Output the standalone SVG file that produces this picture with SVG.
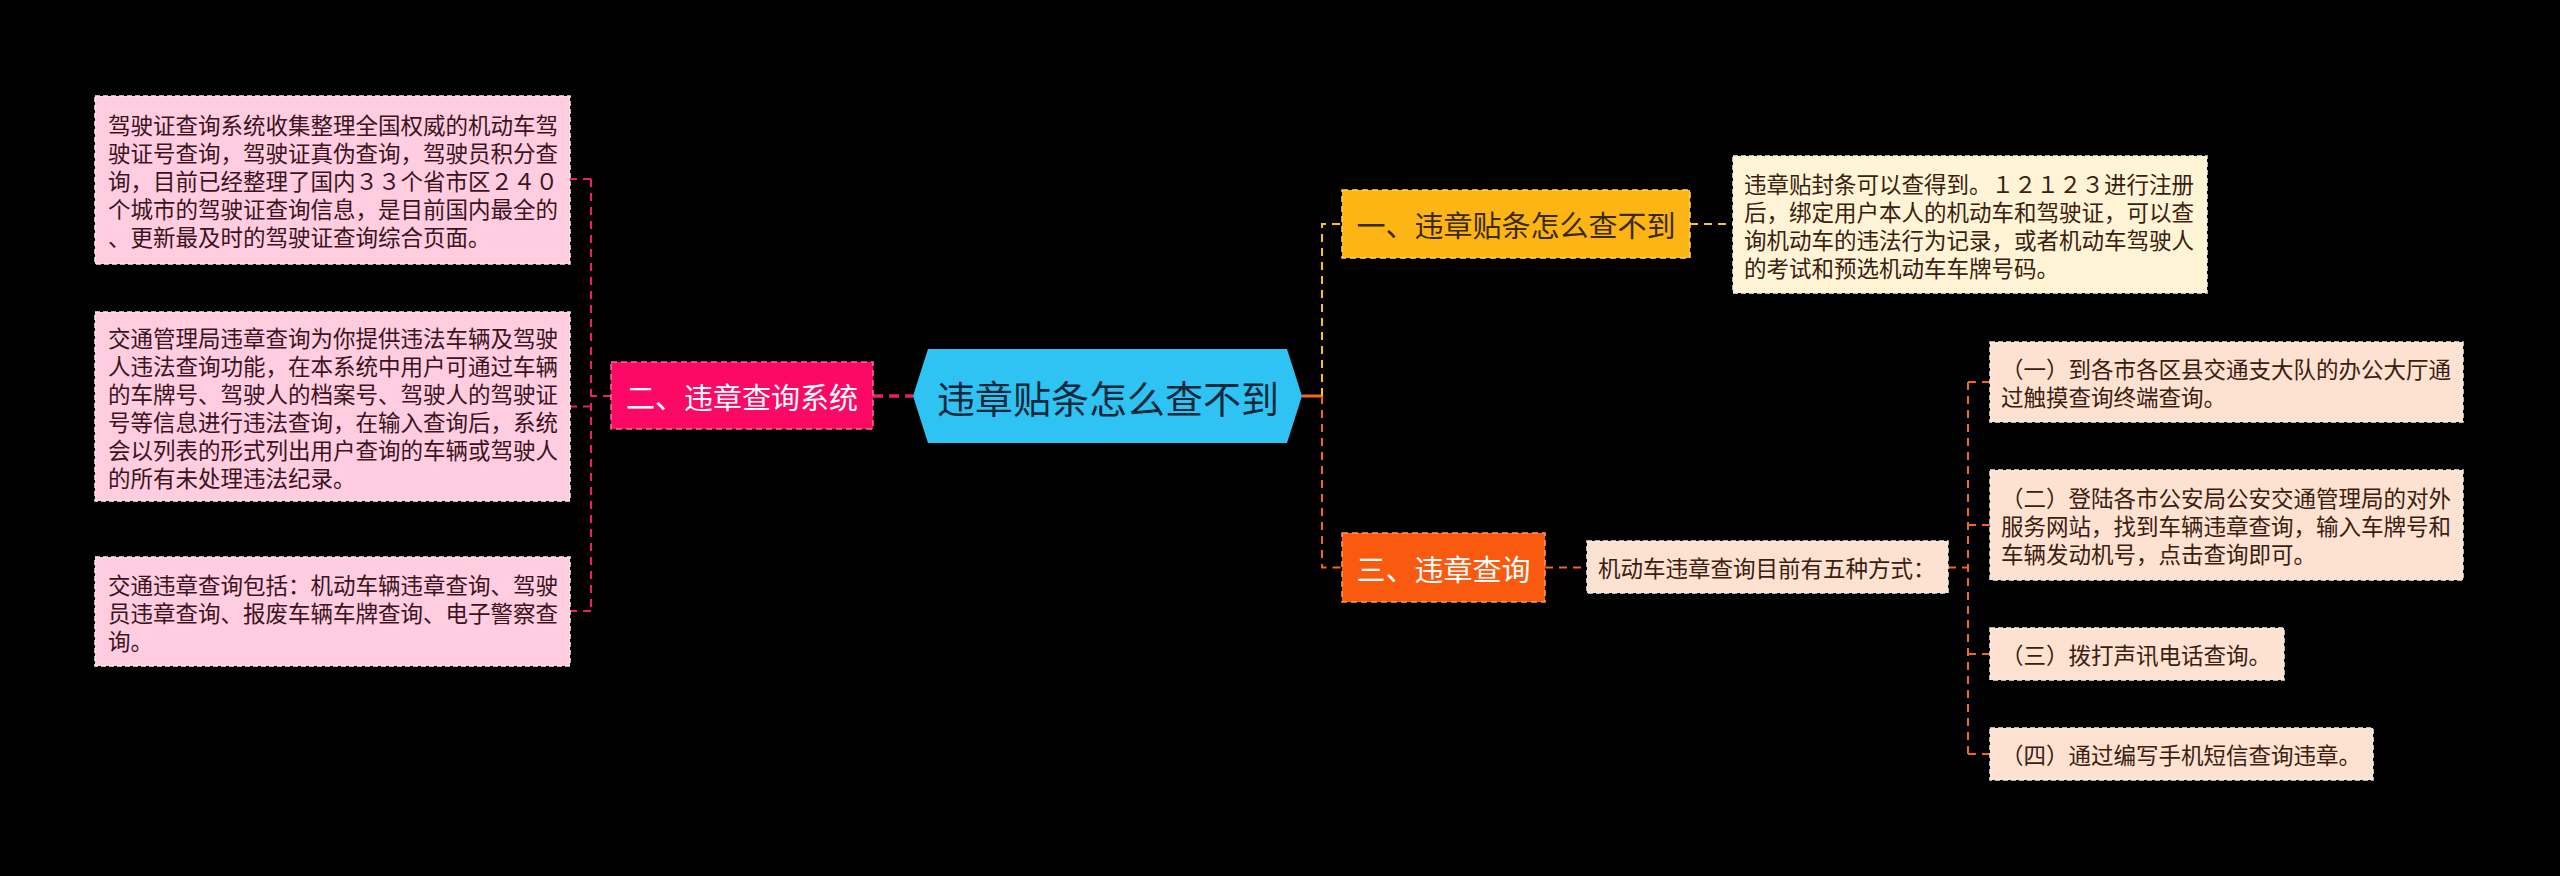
<svg xmlns="http://www.w3.org/2000/svg" width="2560" height="876" viewBox="0 0 2560 876">
<style>
text{font-family:"Noto Sans CJK SC","Noto Sans",sans-serif;dominant-baseline:central}
.pk{fill:#ffcce0;stroke:#f4eef0;stroke-width:1.5;stroke-dasharray:5,3}
.pc{fill:#fde1d1;stroke:#f4eeea;stroke-width:1.5;stroke-dasharray:5,3}
.cr{fill:#fff4d6;stroke:#f4f0e4;stroke-width:1.5;stroke-dasharray:5,3}
.t{font-size:22.5px;fill:#3a1420}
.tb{font-size:22.5px;fill:#3a2010}
.h{font-size:29px;text-anchor:middle}
.cp{fill:none;stroke:#e8206e;stroke-width:2;stroke-dasharray:8,6}
.cy{fill:none;stroke:#f7c51a;stroke-width:2;stroke-dasharray:8,6}
.co{fill:none;stroke:#f26522;stroke-width:2;stroke-dasharray:8,6}
</style>
<rect width="2560" height="876" fill="#000"/>
<g id="connectors">
<line x1="873" y1="396" x2="913" y2="396" stroke="#e8206e" stroke-width="3.5" stroke-dasharray="10,6"/>
<path class="cp" d="M611 396H591M591 179V611M591 179H570M591 406.5H570M591 611H570"/>
<line x1="1302" y1="396" x2="1322" y2="396" stroke="#f26522" stroke-width="3"/>
<path class="cy" d="M1322 396V224H1342M1690 224H1733"/>
<path class="co" d="M1322 396V567.5H1342M1545 567.5H1587M1948 567.5H1968M1968 382V754M1968 382H1990M1968 525H1990M1968 654H1990M1968 754H1990"/>
</g>
<g id="root">
<polygon points="913,396 928,349 1287,349 1302,396 1287,443 928,443" fill="#2ec3f2"/>
<text x="1108" y="396" font-size="38" fill="#13283a" text-anchor="middle">违章贴条怎么查不到</text>
</g>
<g id="n2">
<rect x="611" y="362" width="262" height="67" fill="#fc0865" stroke="#ff6aa0" stroke-width="1.5" stroke-dasharray="6,4"/>
<text class="h" x="742" y="395.5" fill="#fff">二、违章查询系统</text>
</g>
<g id="n2a">
<rect class="pk" x="95" y="96" width="475" height="168"/>
<text class="t" x="108"><tspan x="108" y="123.5">驾驶证查询系统收集整理全国权威的机动车驾</tspan><tspan x="108" y="151.5">驶证号查询，驾驶证真伪查询，驾驶员积分查</tspan><tspan x="108" y="179.5">询，目前已经整理了国内３３个省市区２４０</tspan><tspan x="108" y="207.5">个城市的驾驶证查询信息，是目前国内最全的</tspan><tspan x="108" y="235.5">、更新最及时的驾驶证查询综合页面。</tspan></text>
</g>
<g id="n2b">
<rect class="pk" x="95" y="312" width="475" height="189"/>
<text class="t" x="108"><tspan x="108" y="336.5">交通管理局违章查询为你提供违法车辆及驾驶</tspan><tspan x="108" y="364.5">人违法查询功能，在本系统中用户可通过车辆</tspan><tspan x="108" y="392.5">的车牌号、驾驶人的档案号、驾驶人的驾驶证</tspan><tspan x="108" y="420.5">号等信息进行违法查询，在输入查询后，系统</tspan><tspan x="108" y="448.5">会以列表的形式列出用户查询的车辆或驾驶人</tspan><tspan x="108" y="476.5">的所有未处理违法纪录。</tspan></text>
</g>
<g id="n2c">
<rect class="pk" x="95" y="557" width="475" height="109"/>
<text class="t" x="108"><tspan x="108" y="583.5">交通违章查询包括：机动车辆违章查询、驾驶</tspan><tspan x="108" y="611.5">员违章查询、报废车辆车牌查询、电子警察查</tspan><tspan x="108" y="639.5">询。</tspan></text>
</g>
<g id="n1">
<rect x="1342" y="190" width="348" height="68" fill="#fcb514" stroke="#ffd36a" stroke-width="1.5" stroke-dasharray="6,4"/>
<text class="h" x="1516" y="224" fill="#3a2a08">一、违章贴条怎么查不到</text>
</g>
<g id="n1a">
<rect class="cr" x="1733" y="156" width="474" height="137"/>
<text class="tb" x="1744"><tspan x="1744" y="182.5">违章贴封条可以查得到。１２１２３进行注册</tspan><tspan x="1744" y="210.5">后，绑定用户本人的机动车和驾驶证，可以查</tspan><tspan x="1744" y="238.5">询机动车的违法行为记录，或者机动车驾驶人</tspan><tspan x="1744" y="266.5">的考试和预选机动车车牌号码。</tspan></text>
</g>
<g id="n3">
<rect x="1342" y="533" width="203" height="69" fill="#fa5a10" stroke="#ff9a60" stroke-width="1.5" stroke-dasharray="6,4"/>
<text class="h" x="1443.5" y="567.5" fill="#fff">三、违章查询</text>
</g>
<g id="n3a">
<rect class="pc" x="1587" y="541" width="361" height="52"/>
<text class="tb" x="1598" y="567">机动车违章查询目前有五种方式：</text>
</g>
<g id="n3a1">
<rect class="pc" x="1990" y="342" width="473" height="80"/>
<text class="tb" x="2001"><tspan x="2001" y="368">（一）到各市各区县交通支大队的办公大厅通</tspan><tspan x="2001" y="396">过触摸查询终端查询。</tspan></text>
</g>
<g id="n3a2">
<rect class="pc" x="1990" y="470" width="473" height="110"/>
<text class="tb" x="2001"><tspan x="2001" y="497">（二）登陆各市公安局公安交通管理局的对外</tspan><tspan x="2001" y="525">服务网站，找到车辆违章查询，输入车牌号和</tspan><tspan x="2001" y="553">车辆发动机号，点击查询即可。</tspan></text>
</g>
<g id="n3a3">
<rect class="pc" x="1990" y="628" width="294" height="52"/>
<text class="tb" x="2001" y="654">（三）拨打声讯电话查询。</text>
</g>
<g id="n3a4">
<rect class="pc" x="1990" y="728" width="383" height="52"/>
<text class="tb" x="2001" y="754">（四）通过编写手机短信查询违章。</text>
</g>
</svg>
